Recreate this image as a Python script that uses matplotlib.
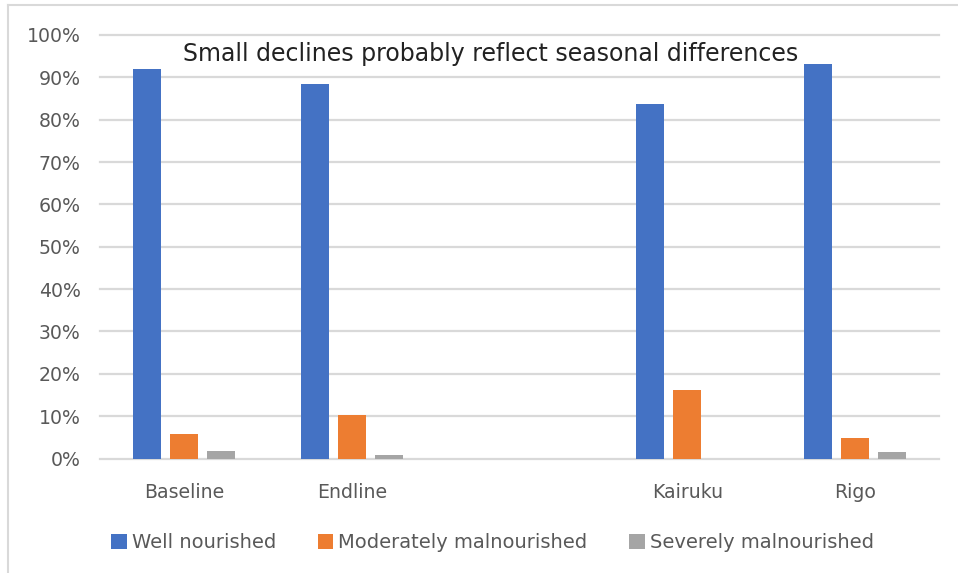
import matplotlib
matplotlib.use('Agg')
import matplotlib.pyplot as plt
import numpy as np
from matplotlib.lines import Line2D

plt.rcParams['font.family'] = 'DejaVu Sans'

categories = ['Baseline', 'Endline', '', 'Kairuku', 'Rigo']
well = [0.919, 0.884, np.nan, 0.836, 0.932]
moderate = [0.058, 0.103, np.nan, 0.162, 0.048]
severe = [0.018, 0.008, np.nan, 0.0, 0.015]
series_names = ['Well nourished', 'Moderately malnourished', 'Severely malnourished']
colors = ['#4472C4', '#ED7D31', '#A5A5A5']
title = 'Small declines probably reflect seasonal differences'

text_color = '#595959'
grid_color = '#d9d9d9'

fig = plt.figure(figsize=(9.58, 5.73), dpi=100, facecolor='w')
ax = fig.add_axes([100 / 958, 1 - 458.5 / 573, 839 / 958, 423.5 / 573])

x = np.arange(len(categories))
width = 0.167
step = 0.22
for i, (vals, name, c) in enumerate(zip([well, moderate, severe], series_names, colors)):
    ax.bar(x + (i - 1) * step, vals, width, color=c, label=name, zorder=3)

ax.set_xlim(-0.5, len(categories) - 0.5)
ax.set_ylim(0, 1.0)
ax.set_yticks(np.arange(0, 1.01, 0.1))
ax.set_yticklabels(['%d%%' % round(v * 100) for v in np.arange(0, 1.01, 0.1)])
ax.set_xticks(x)
ax.set_xticklabels(categories)
ax.yaxis.grid(True, color=grid_color, linewidth=1.6, zorder=0)
for gl in ax.get_ygridlines():
    gl.set_clip_on(False)
ax.set_axisbelow(True)
for s in ax.spines.values():
    s.set_visible(False)
ax.tick_params(axis='both', length=0, labelsize=13.6, colors=text_color)
ax.tick_params(axis='y', pad=14)
ax.tick_params(axis='x', pad=17.5)

ax.text(0.466, 0.955, title, transform=ax.transAxes, ha='center', va='center',
        fontsize=17, color='#222222')

handles, labels = ax.get_legend_handles_labels()
fig.legend(handles, labels, loc='center', bbox_to_anchor=(0.514, 1 - 543 / 573),
           ncol=3, frameon=False, fontsize=14, labelcolor=text_color,
           handlelength=0.8, handleheight=0.8, handletextpad=0.26, columnspacing=2.15)

# light frame along the top and left edges
fig.add_artist(Line2D([8 / 958, 1], [1 - 5 / 573, 1 - 5 / 573], color=grid_color, lw=1.5))
fig.add_artist(Line2D([8 / 958, 8 / 958], [0, 1 - 5 / 573], color=grid_color, lw=1.5))

fig.savefig('out.png', dpi=100, facecolor='w')
